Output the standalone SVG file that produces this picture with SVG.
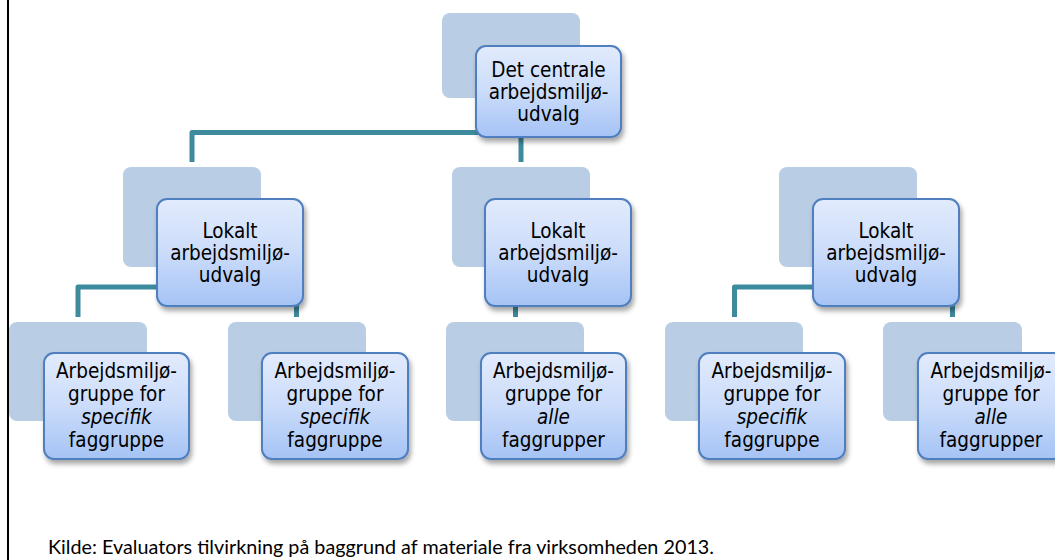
<svg xmlns="http://www.w3.org/2000/svg" width="1055" height="560" viewBox="0 0 1055 560">
  <defs>
    <linearGradient id="g" x1="0" y1="0" x2="0" y2="1">
      <stop offset="0" stop-color="#e2ebfc"/>
      <stop offset="0.5" stop-color="#cbdcfa"/>
      <stop offset="1" stop-color="#a5c3f5"/>
    </linearGradient>
    <filter id="sh" x="-20%" y="-20%" width="150%" height="150%">
      <feDropShadow dx="2" dy="4" stdDeviation="2.5" flood-color="#000" flood-opacity="0.35"/>
    </filter>
  </defs>
  <style>
    .bg { fill: #b9cde4; }
    .fr { fill: url(#g); stroke: #4f7fbe; stroke-width: 2; filter: url(#sh); }
    .t { font-family: "DejaVu Sans Condensed", "DejaVu Sans", Verdana, sans-serif; font-size: 20.5px; fill: #000; text-anchor: middle; }
    .i { font-style: italic; }
    .c { fill: none; stroke: #3e8b9d; stroke-width: 5; stroke-linejoin: round; }
  </style>
  <rect width="1055" height="560" fill="#fff"/>
  <line x1="8" y1="0" x2="8" y2="560" stroke="#000" stroke-width="2"/>

  <g id="connectors">
    <path class="c" d="M511 98 V132.5 H192 V162"/>
    <path class="c" d="M511 132.5 H521 V162"/>
    <path class="c" d="M192 267 V287 H78 V317"/>
    <path class="c" d="M192 287 H296.5 V317"/>
    <path class="c" d="M521 267 V287 H515.5 V317"/>
    <path class="c" d="M848 267 V287 H734.5 V317"/>
    <path class="c" d="M848 287 H952.5 V317"/>
  </g>

  <g id="top">
    <rect class="bg" x="442" y="13" width="138" height="85" rx="8"/>
    <rect class="fr" x="476" y="46" width="145" height="91" rx="10"/>
    <text class="t"><tspan x="548.5" y="77">Det centrale</tspan><tspan x="548.5" y="99">arbejdsmiljø-</tspan><tspan x="548.5" y="121">udvalg</tspan></text>
  </g>

  <g id="lokal1">
    <rect class="bg" x="123" y="167" width="138" height="100" rx="8"/>
    <rect class="fr" x="157" y="199" width="146" height="107" rx="10"/>
    <text class="t"><tspan x="230" y="238">Lokalt</tspan><tspan x="230" y="260">arbejdsmiljø-</tspan><tspan x="230" y="282">udvalg</tspan></text>
  </g>

  <g id="lokal2">
    <rect class="bg" x="452" y="167" width="138" height="100" rx="8"/>
    <rect class="fr" x="485" y="199" width="146" height="107" rx="10"/>
    <text class="t"><tspan x="558" y="238">Lokalt</tspan><tspan x="558" y="260">arbejdsmiljø-</tspan><tspan x="558" y="282">udvalg</tspan></text>
  </g>

  <g id="lokal3">
    <rect class="bg" x="779" y="167" width="138" height="100" rx="8"/>
    <rect class="fr" x="813" y="199" width="146" height="107" rx="10"/>
    <text class="t"><tspan x="886" y="238">Lokalt</tspan><tspan x="886" y="260">arbejdsmiljø-</tspan><tspan x="886" y="282">udvalg</tspan></text>
  </g>

  <g id="gruppe1">
    <rect class="bg" x="9" y="322" width="138" height="99" rx="8"/>
    <rect class="fr" x="44" y="353" width="145" height="106" rx="10"/>
    <text class="t"><tspan x="116.5" y="378">Arbejdsmiljø-</tspan><tspan x="116.5" y="401">gruppe for</tspan><tspan x="116.5" y="424" class="i">specifik</tspan><tspan x="116.5" y="447">faggruppe</tspan></text>
  </g>

  <g id="gruppe2">
    <rect class="bg" x="228" y="322" width="138" height="99" rx="8"/>
    <rect class="fr" x="262" y="353" width="146" height="106" rx="10"/>
    <text class="t"><tspan x="335" y="378">Arbejdsmiljø-</tspan><tspan x="335" y="401">gruppe for</tspan><tspan x="335" y="424" class="i">specifik</tspan><tspan x="335" y="447">faggruppe</tspan></text>
  </g>

  <g id="gruppe3">
    <rect class="bg" x="446" y="322" width="138" height="99" rx="8"/>
    <rect class="fr" x="481" y="353" width="145" height="106" rx="10"/>
    <text class="t"><tspan x="553.5" y="378">Arbejdsmiljø-</tspan><tspan x="553.5" y="401">gruppe for</tspan><tspan x="553.5" y="424" class="i">alle</tspan><tspan x="553.5" y="447">faggrupper</tspan></text>
  </g>

  <g id="gruppe4">
    <rect class="bg" x="665" y="322" width="138" height="99" rx="8"/>
    <rect class="fr" x="699" y="353" width="146" height="106" rx="10"/>
    <text class="t"><tspan x="772" y="378">Arbejdsmiljø-</tspan><tspan x="772" y="401">gruppe for</tspan><tspan x="772" y="424" class="i">specifik</tspan><tspan x="772" y="447">faggruppe</tspan></text>
  </g>

  <g id="gruppe5">
    <rect class="bg" x="883" y="322" width="139" height="99" rx="8"/>
    <rect class="fr" x="918" y="353" width="146" height="106" rx="10"/>
    <text class="t"><tspan x="991" y="378">Arbejdsmiljø-</tspan><tspan x="991" y="401">gruppe for</tspan><tspan x="991" y="424" class="i">alle</tspan><tspan x="991" y="447">faggrupper</tspan></text>
  </g>

  <text x="48" y="554" font-family="Lato, 'Liberation Sans', sans-serif" font-size="19" fill="#000" textLength="666" lengthAdjust="spacingAndGlyphs">Kilde: Evaluators tilvirkning på baggrund af materiale fra virksomheden 2013.</text>
</svg>
